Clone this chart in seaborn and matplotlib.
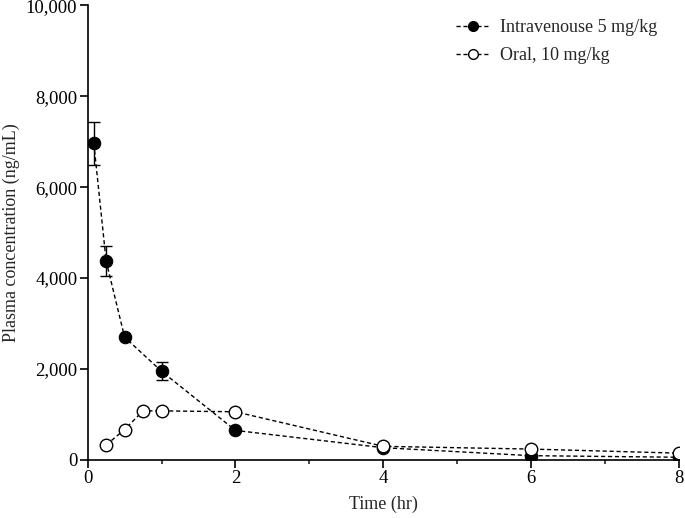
import pandas as pd
import numpy as np
import seaborn as sns
import matplotlib.pyplot as plt
from matplotlib.lines import Line2D
from matplotlib.ticker import FuncFormatter, MultipleLocator

# values
iv_time = [0.083, 0.25, 0.5, 1, 2, 4, 6, 8]
iv_conc = [6960, 4370, 2700, 1950, 650, 270, 95, 60]
iv_err = [470, 330, 0, 200, 0, 0, 0, 0]
oral_time = [0.25, 0.5, 0.75, 1, 2, 4, 6, 8]
oral_conc = [330, 670, 1080, 1080, 1060, 300, 240, 150]

iv_label = "Intravenouse 5 mg/kg"
oral_label = "Oral, 10 mg/kg"

df = pd.concat([
    pd.DataFrame({"time": iv_time, "conc": iv_conc, "group": iv_label}),
    pd.DataFrame({"time": oral_time, "conc": oral_conc, "group": oral_label}),
])

sns.set_style("ticks")
plt.rcParams["font.family"] = ["Liberation Serif", "DejaVu Serif"]

fig = plt.figure(figsize=(6.85, 5.18), dpi=100)
ax = fig.add_axes([0.128, 0.112, 0.863, 0.878])

# error bars first so markers sit on top
ax.errorbar(iv_time, iv_conc, yerr=iv_err, fmt="none", ecolor="black",
            elinewidth=1, capsize=4, capthick=1, zorder=2)

sns.lineplot(data=df, x="time", y="conc", hue="group", style="group",
             palette={iv_label: "black", oral_label: "black"},
             markers={iv_label: "o", oral_label: "o"},
             dashes={iv_label: (3, 2), oral_label: (3, 2)},
             linewidth=1, markersize=9, ax=ax, zorder=3, legend=False)

# restyle markers: filled vs open
lines = ax.get_lines()
lines[-2].set_markerfacecolor("black")
lines[-2].set_markeredgecolor("black")
lines[-1].set_markerfacecolor("white")
lines[-1].set_markeredgecolor("black")
lines[-1].set_markeredgewidth(1)

handles = [
    Line2D([], [], color="black", linestyle=(0, (3, 2)), linewidth=1,
           marker="o", markersize=7, markerfacecolor="black", markeredgecolor="black"),
    Line2D([], [], color="black", linestyle=(0, (3, 2)), linewidth=1,
           marker="o", markersize=7, markerfacecolor="white", markeredgecolor="black"),
]
ax.legend(handles, [iv_label, oral_label], loc="upper right", frameon=False,
          fontsize=13, handlelength=1.8, handletextpad=0.6, labelspacing=0.6,
          bbox_to_anchor=(0.975, 0.985), borderaxespad=0)

ax.set_xlim(0, 8)
ax.set_ylim(0, 10000)
ax.xaxis.set_major_locator(MultipleLocator(2))
ax.xaxis.set_minor_locator(MultipleLocator(1))
ax.yaxis.set_major_locator(MultipleLocator(2000))
ax.yaxis.set_major_formatter(FuncFormatter(lambda v, p: f"{int(v):,}"))
ax.tick_params(axis="both", which="major", labelsize=13.5, length=5.5, width=1.2,
               colors="black", direction="out", pad=2)
ax.tick_params(axis="x", which="minor", length=3, width=1.2)
for s in ["left", "bottom"]:
    ax.spines[s].set_linewidth(1.2)
    ax.spines[s].set_color("black")
sns.despine(ax=ax)

ax.set_xlabel("Time (hr)", fontsize=13, labelpad=6)
ax.set_ylabel("Plasma concentration (ng/mL)", fontsize=13, labelpad=4)

fig.savefig("out.png", dpi=100)
